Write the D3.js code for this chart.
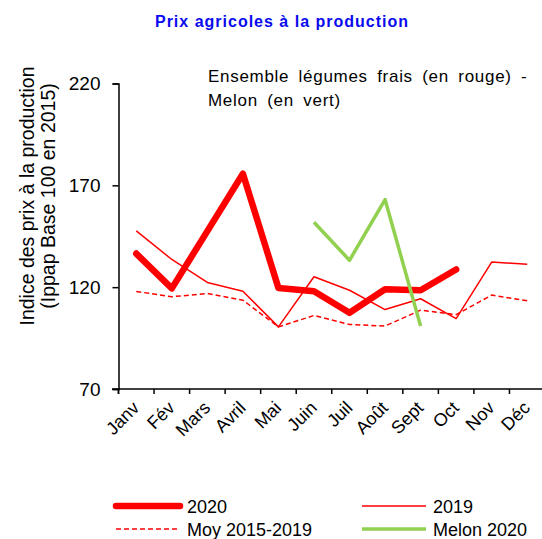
<!DOCTYPE html>
<html>
<head>
<meta charset="utf-8">
<script src="https://cdnjs.cloudflare.com/ajax/libs/d3/7.8.5/d3.min.js"></script>
<style>
  body { margin: 0; background: #fff; }
  svg text { font-family: "Liberation Sans", Arial, sans-serif; fill: #000; }
</style>
</head>
<body>
<div id="chart"></div>
<script>
const months = ["Janv", "Fév", "Mars", "Avril", "Mai", "Juin", "Juil", "Août", "Sept", "Oct", "Nov", "Déc"];
const yTicks = [70, 120, 170, 220];

const v2020 = [136.5, 119.4, 147.5, 175.7, 119.6, 118.0, 107.4, 119.0, 118.5, 128.7, null, null];
const v2019 = [147.6, 133.6, 122.3, 118.0, 100.5, 125.1, 118.5, 109.0, 114.3, 104.6, 132.3, 131.3];
const vMoy = [117.9, 115.3, 116.9, 113.6, 100.5, 106.1, 101.7, 100.9, 108.7, 106.5, 116.1, 113.3];
const vMelon = [null, null, null, null, null, 151.9, 133.2, 163.0, 100.9, null, null, null];

const w = 542;
const h = 539;

const svg = d3.select("#chart").append("svg")
  .attr("width", w)
  .attr("height", h);

///////////////////////////// Scales

const x = d3.scaleBand()
  .domain(months)
  .range([118.5, 545]);

const y = d3.scaleLinear()
  .domain([70, 220])
  .range([389, 83.5]);

///////////////////////////// Titles

svg.append("text")
  .attr("x", 282)
  .attr("y", 27)
  .attr("text-anchor", "middle")
  .style("font-size", "16px")
  .style("font-weight", "bold")
  .style("letter-spacing", "1px")
  .style("fill", "#0a0aee")
  .text("Prix agricoles à la production");

const note = svg.append("text")
  .style("font-size", "17px")
  .style("letter-spacing", "0.7px")
  .style("word-spacing", "4px");
note.append("tspan").attr("x", 208).attr("y", 82).text("Ensemble légumes frais (en rouge) -");
note.append("tspan").attr("x", 208).attr("y", 106).text("Melon (en vert)");

const ylab = svg.append("text")
  .attr("transform", "translate(0,196) rotate(-90)")
  .attr("text-anchor", "middle")
  .style("font-size", "19.5px");
ylab.append("tspan").attr("x", 0).attr("y", 34).text("Indice des prix à la production");
ylab.append("tspan").attr("x", 0).attr("y", 55).text("(Ippap Base 100 en 2015)");

///////////////////////////// Axes

const yAxis = svg.append("g")
  .attr("transform", "translate(118.5,0)")
  .call(d3.axisLeft(y).tickValues(yTicks).tickSize(6).tickPadding(12));
yAxis.selectAll("text").style("font-size", "19px").attr("fill", "#000");
// axis line runs a little past the x axis, as in the original
yAxis.append("line")
  .attr("y1", y(70)).attr("y2", y(70) + 5)
  .attr("stroke", "#000").attr("stroke-width", 1.5);

const xAxis = svg.append("g")
  .attr("transform", "translate(0,389)");
xAxis.append("line")
  .attr("x1", 112).attr("x2", w)
  .attr("stroke", "#000").attr("stroke-width", 1.5);
xAxis.selectAll(".tk")
  .data(months)
  .enter().append("line")
  .attr("class", "tk")
  .attr("x1", d => x(d)).attr("x2", d => x(d))
  .attr("y1", 0).attr("y2", 5)
  .attr("stroke", "#000").attr("stroke-width", 1.5);
xAxis.selectAll(".lbl")
  .data(months)
  .enter().append("text")
  .attr("class", "lbl")
  .attr("text-anchor", "end")
  .attr("transform", d => "translate(" + (x(d) + x.bandwidth() / 2 + 4) + ",20) rotate(-45)")
  .style("font-size", "18px")
  .text(d => d);

svg.selectAll(".domain").attr("stroke", "#000").attr("stroke-width", 1.5);
svg.selectAll(".tick line").attr("stroke", "#000").attr("stroke-width", 1.5);

///////////////////////////// Lines

const line = d3.line()
  .defined(d => d != null)
  .x((d, i) => x(months[i]) + x.bandwidth() / 2)
  .y(d => y(d));

const series = [
  { name: "Moy 2015-2019", values: vMoy, color: "#ff0000", width: 1.5, dash: "5,3" },
  { name: "2019", values: v2019, color: "#ff0000", width: 1.5, dash: null },
  { name: "2020", values: v2020, color: "#ff0000", width: 6.5, dash: null },
  { name: "Melon 2020", values: vMelon, color: "#92d050", width: 3.5, dash: null }
];

series.forEach(s => {
  svg.append("path")
    .datum(s.values)
    .attr("fill", "none")
    .attr("stroke", s.color)
    .attr("stroke-width", s.width)
    .attr("stroke-dasharray", s.dash)
    .attr("stroke-linejoin", "round")
    .attr("stroke-linecap", s.width > 5 ? "round" : "butt")
    .attr("d", line);
});

///////////////////////////// Legend

const legendItems = [
  { s: series[2], x: 116, y: 506 },
  { s: series[1], x: 362, y: 506 },
  { s: series[0], x: 116, y: 529 },
  { s: series[3], x: 362, y: 529 }
];

legendItems.forEach(it => {
  svg.append("line")
    .attr("x1", it.x).attr("x2", it.x + 64)
    .attr("y1", it.y).attr("y2", it.y)
    .attr("stroke", it.s.color)
    .attr("stroke-width", it.s.width)
    .attr("stroke-dasharray", it.s.dash)
    .attr("stroke-linecap", it.s.width > 5 ? "round" : "butt");
  svg.append("text")
    .attr("x", it.x + 71)
    .attr("y", it.y + 6.5)
    .style("font-size", "18px")
    .text(it.s.name);
});
</script>
</body>
</html>
